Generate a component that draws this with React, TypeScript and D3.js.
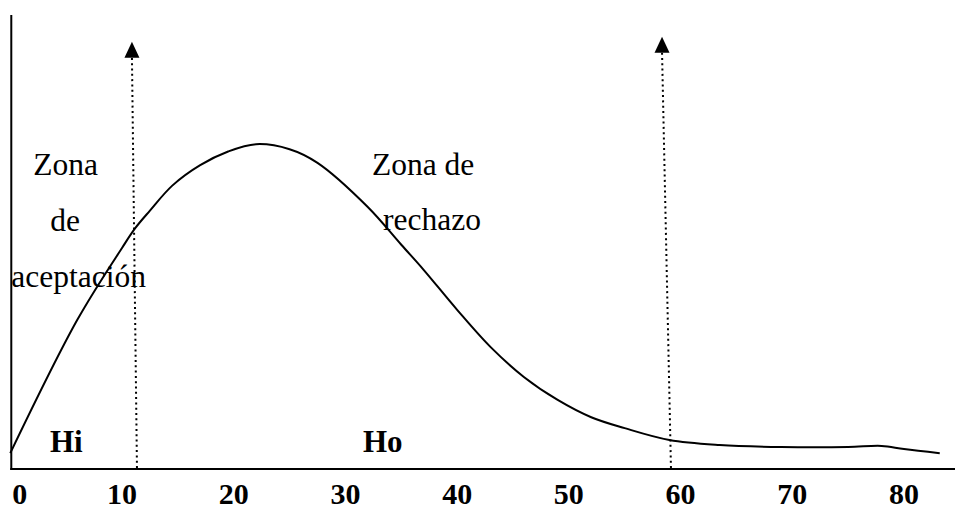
import React from 'react';
import * as d3 from 'd3';

// curve (x in axis units, y in arbitrary height units 0-100)
const curveX = [0, 6, 10, 11.2, 12.5, 14.5, 17, 19.5, 22, 25, 27.5, 32, 35, 37, 40, 43, 46, 49, 52, 55, 59, 63.5, 69, 75, 78, 80, 83.2];
const curveY = [3.7, 33, 48.8, 53.2, 57, 62.5, 67, 70, 71.6, 70.5, 67.5, 57.8, 49.5, 44, 35.2, 27, 20.4, 15.4, 11.6, 9.2, 6.6, 5.5, 5.05, 5.05, 5.3, 4.6, 3.7];

const tickLabels = [0, 10, 20, 30, 40, 50, 60, 70, 80];

// dotted boundaries with arrow heads (bottom x, top x, arrow tip height)
const boundaryBottom = [11.34, 59.14];
const boundaryTop = [10.89, 58.34];
const boundaryBase = [90.8, 91.9];
const boundaryTip = [94.1, 95.2];

const width = 955;
const height = 511;
const font = "'Times New Roman', 'Liberation Serif', Times, serif";

export default function App() {

  const x = d3.scaleLinear().domain([10, 80]).range([122, 904]);
  const y = d3.scaleLinear().domain([0, 100]).range([470, 15]);

  const points: [number, number][] = curveX.map((v, i) => [v, curveY[i]]);

  const line = d3.line<[number, number]>()
    .x(d => x(d[0]))
    .y(d => y(d[1]))
    .curve(d3.curveCatmullRom.alpha(0.5));

  const x0 = x(0);

  return (
    <svg width={width} height={height} style={{ position: 'absolute', left: 0, top: 0, background: '#fff' }}>
      {/* axes */}
      <line x1={x0 + 1} x2={x0 + 1} y1={y(100)} y2={y(0)} stroke="#000" strokeWidth={2} />
      <line x1={x0} x2={width} y1={y(0) - 1} y2={y(0) - 1} stroke="#000" strokeWidth={2} />

      {/* curve */}
      <path d={line(points) || ''} fill="none" stroke="#000" strokeWidth={2} />

      {/* boundaries */}
      {boundaryBottom.map((b, i) => {
        const xt = x(boundaryTop[i]);
        const yb = y(boundaryBase[i]);
        const yt = y(boundaryTip[i]);
        return (
          <g key={i}>
            <line x1={x(b)} x2={xt} y1={y(0) - 2} y2={yb} stroke="#000" strokeWidth={2} strokeDasharray="2,3.3" />
            <path d={`M${xt},${yt} L${xt - 7.5},${yb + 1} L${xt + 7.5},${yb + 1} Z`} fill="#000" />
          </g>
        );
      })}

      {/* zone labels */}
      <g style={{ fontFamily: font, fontSize: 31.5 }} fill="#000">
        <text x={x0 + 23} y={175}>Zona</text>
        <text x={x0 + 40} y={231}>de</text>
        <text x={x0 + 1} y={287}>aceptación</text>
        <text x={372} y={175}>Zona de</text>
        <text x={383} y={230}>rechazo</text>
      </g>

      <g style={{ fontFamily: font, fontSize: 31, fontWeight: 'bold' }} fill="#000">
        <text x={50} y={452}>Hi</text>
        <text x={363} y={452}>Ho</text>
      </g>

      {/* tick labels */}
      <g style={{ fontFamily: font, fontSize: 30, fontWeight: 'bold' }} fill="#000">
        {tickLabels.map((t, i) => (
          <text
            key={t}
            x={i === 0 ? x0 + 2 : x(t)}
            y={504}
            textAnchor={i === 0 ? 'start' : 'middle'}
          >
            {t}
          </text>
        ))}
      </g>
    </svg>
  );
}
